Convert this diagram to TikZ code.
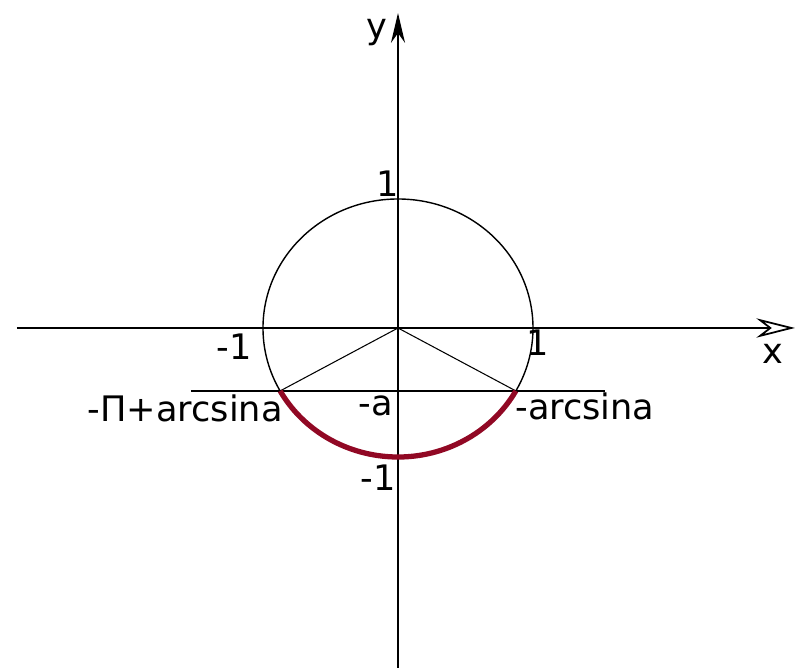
\documentclass[tikz,border=0pt]{standalone}
\usepackage{fontspec}
\setmainfont{DejaVu Sans}
\usetikzlibrary{calc,arrows.meta}
\definecolor{arcred}{RGB}{145,8,36}

\begin{document}
\begin{tikzpicture}[x=0.02cm,y=0.02cm,font=\fontsize{20}{24}\selectfont]
\def\rx{135}
\def\ry{129}
\def\t{29.2}
\useasboundingbox (-398,-340) rectangle (398,328);
\coordinate (O) at (0,0);
\coordinate (xl) at (-381,0);
\coordinate (xr) at (397,0);
\coordinate (yb) at (0,-340);
\coordinate (yt) at (0,315);
\coordinate (L) at ({-\rx*cos(\t)},{-\ry*sin(\t)});
\coordinate (R) at ({\rx*cos(\t)},{-\ry*sin(\t)});
\coordinate (al) at (-207,-63);
\coordinate (ar) at (207,-63);
\draw[line width=1pt,-{Stealth[open,length=22pt,width=11pt]}] (xl) -- (xr);
\draw[line width=1pt,-{Stealth[length=17pt,width=8pt]}] (yb) -- (yt);
\draw[line width=0.8pt] (O) ellipse [x radius=\rx, y radius=\ry];
\draw[line width=0.8pt] (al) -- (ar);
\draw[line width=0.6pt] (O) -- (L);
\draw[line width=0.6pt] (O) -- (R);
%lower arc
\draw[arcred, line width=3pt] (L) arc [start angle=180+\t, end angle=360-\t, x radius=\rx, y radius=\ry];
\path (-21,295) node (ylab) {y};
\path (375,-26) node (xlab) {x};
\path (-10,144) node (one) {1};
\path (140,-15) node (onex) {1};
\path (-164,-19) node (mone) {-1};
\path (-20,-150) node (money) {-1};
\path (-22,-78) node (ma) {-a};
\path (117,-78) node[anchor=west,inner sep=0pt] (asin) {-arcsina};
\path (-115,-80) node[anchor=east,inner sep=0pt] (pasin) {-Π+arcsina};
\end{tikzpicture}
\end{document}
